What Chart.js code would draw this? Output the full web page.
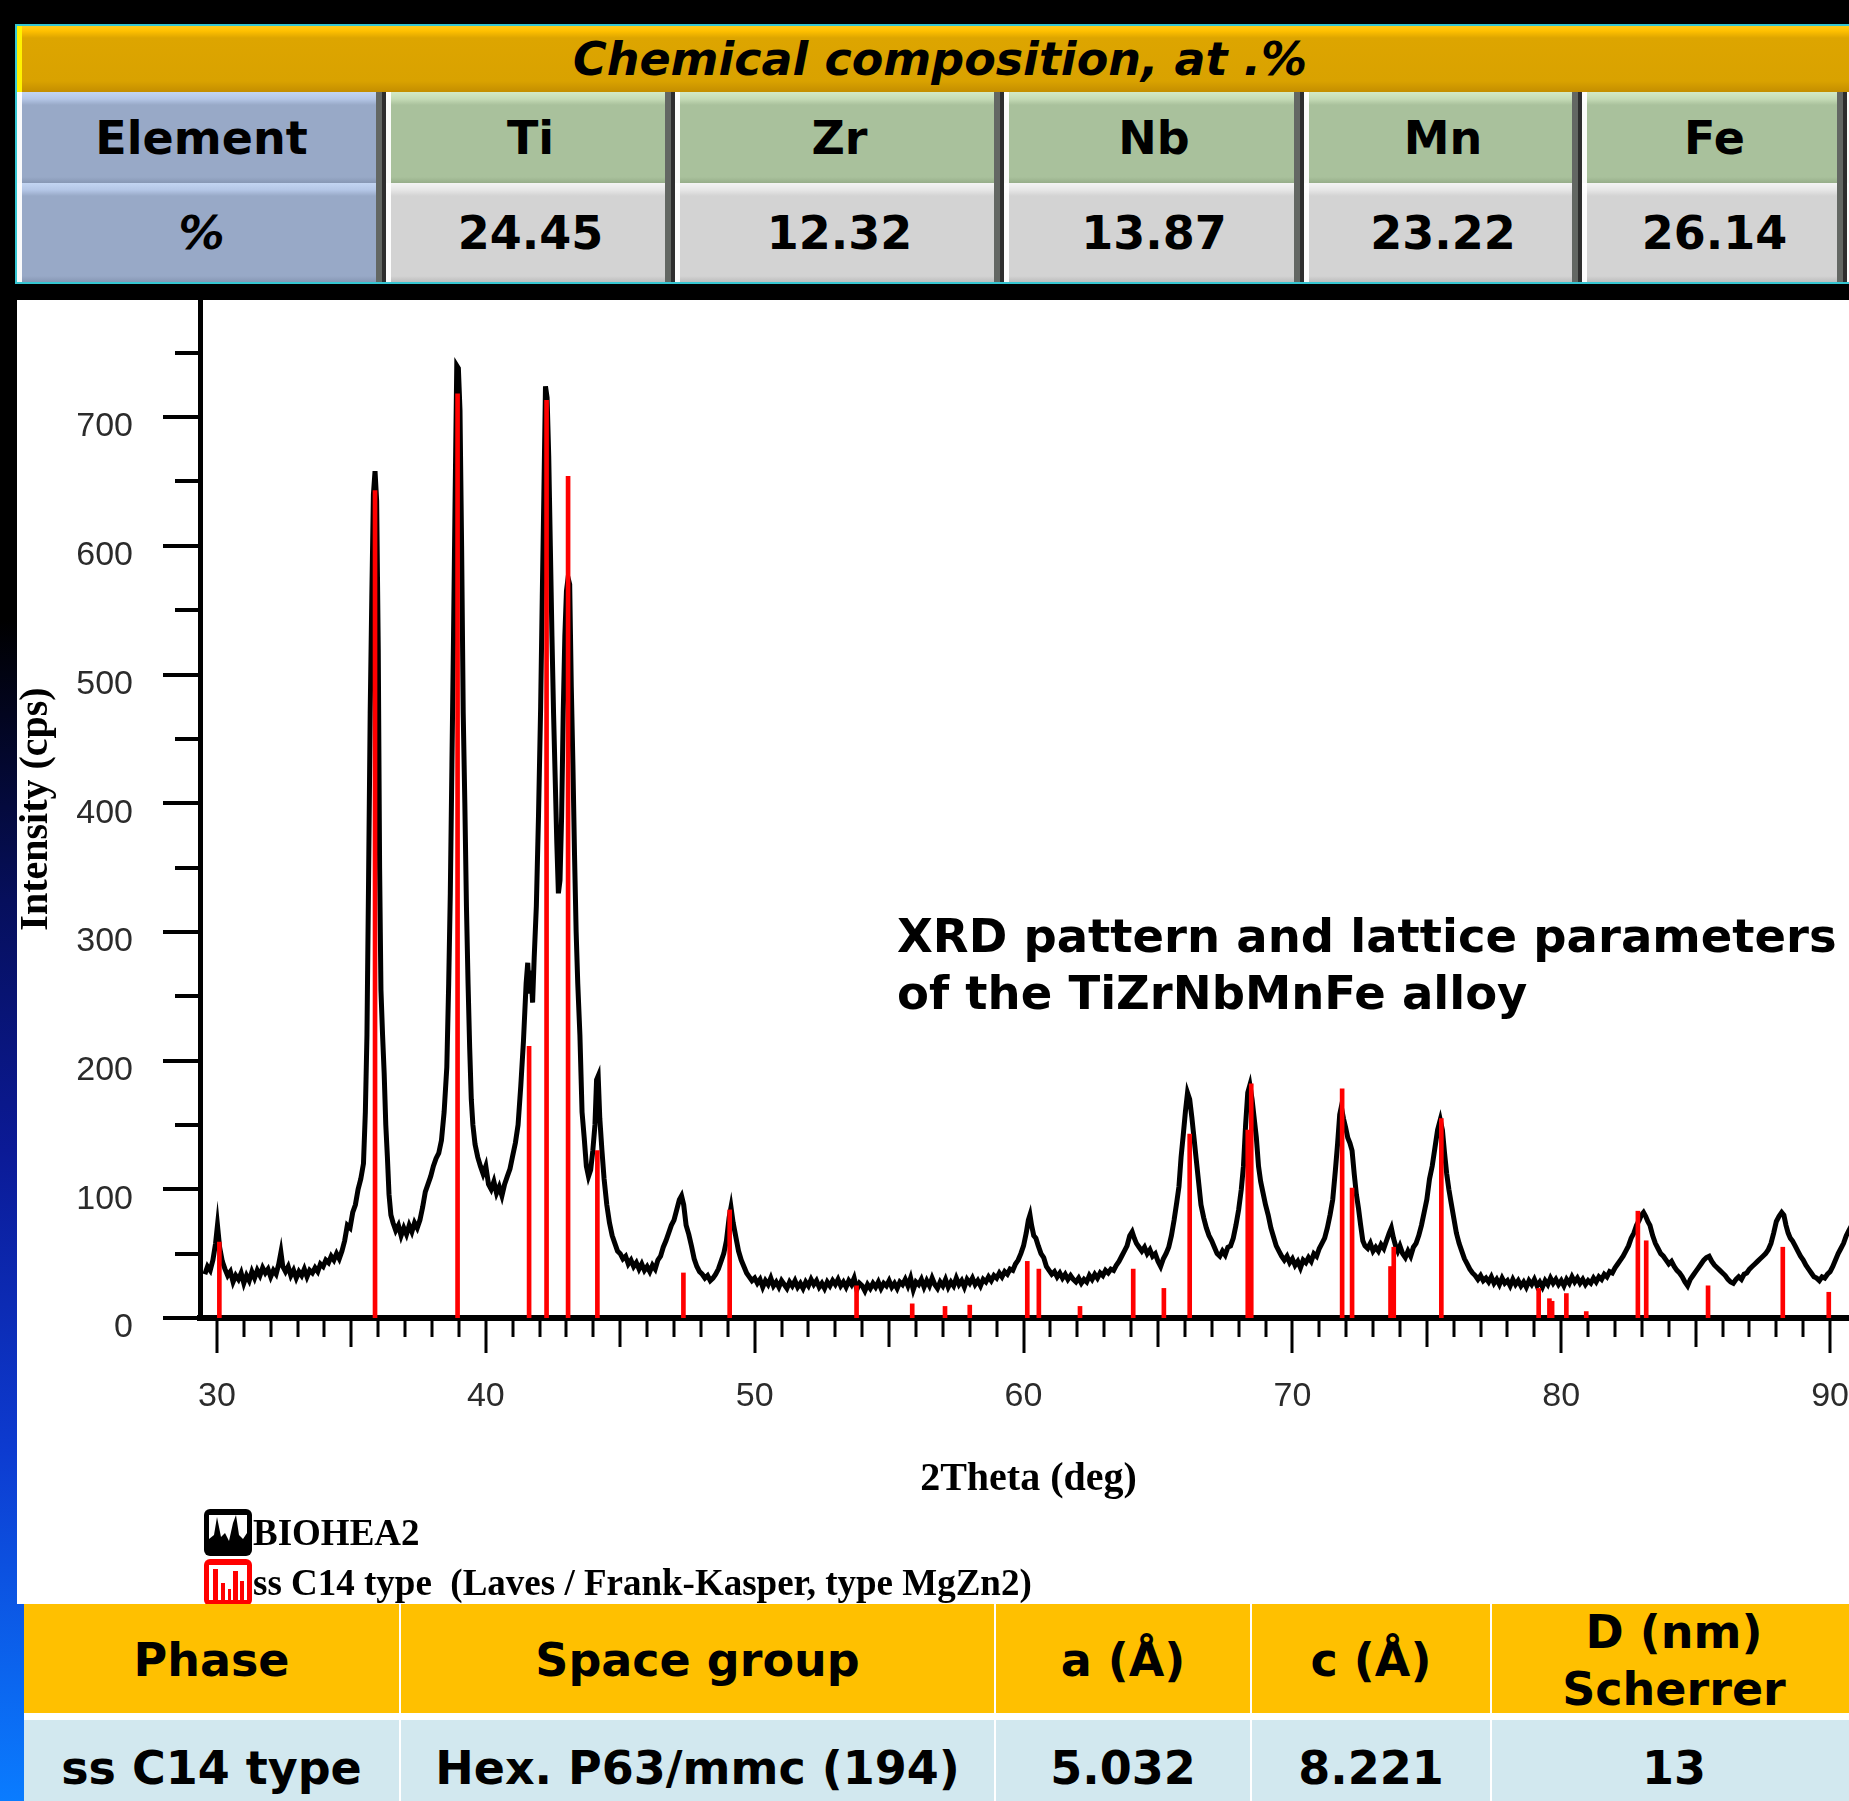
<!DOCTYPE html>
<html>
<head>
<meta charset="utf-8">
<title>XRD pattern - TiZrNbMnFe</title>
<script src="https://cdn.jsdelivr.net/npm/chart.js@4.4.1/dist/chart.umd.min.js"></script>
<style>
  html, body { margin: 0; padding: 0; width: 1849px; height: 1801px; overflow: hidden; }
  body {
    position: relative;
    font-family: 'DejaVu Sans', sans-serif;
    background: linear-gradient(to bottom, #000 0, #000 620px, #060f5c 900px, #0b1a96 1150px, #0d3bd0 1450px, #0a7cff 1801px);
  }
  #comp { position: absolute; left: 15px; top: 24px; width: 1860px; border: 2px solid #36c6d2; border-right: none; }
  #comp .band {
    width: 1846px; height: 66px; line-height: 66px; text-align: center;
    font: italic bold 46px 'DejaVu Sans', sans-serif; color: #000;
    background: linear-gradient(#ffcc1a 0, #ffc000 5px, #dda500 12px, #d9a200 55px, #c48e00 66px);
    box-shadow: inset 5px 0 0 #fff200;
  }
  #comp .band span { position: relative; top: 6px; }
  #comp .row { display: flex; }
  #comp .r1 { height: 91px; }
  #comp .r2 { height: 99px; }
  .cell {
    flex: none; display: flex; align-items: center; justify-content: center;
    font-weight: bold; font-size: 46px; color: #000; box-sizing: border-box;
    box-shadow: inset 5px 0 0 rgba(255,255,255,0.95), inset -4px 0 0 #2e2e2e, inset -10px 0 0 #636763;
  }
  .blue { background: linear-gradient(#c3d5f2 0, #b4c6e6 7px, #98a9c7 13px, #98a9c7 calc(100% - 6px), #8797b4 100%); }
  .green { background: linear-gradient(#d3e9c6 0, #c4dbb6 7px, #a9c19c 13px, #a9c19c calc(100% - 6px), #96ad89 100%); }
  .grey { background: linear-gradient(#f4f4f4 0, #e6e6e6 7px, #d3d3d3 13px, #d3d3d3 calc(100% - 6px), #bdbdbd 100%); }
  #plot { position: absolute; left: 17px; top: 300px; width: 1850px; height: 1304px; background: #fff; }
  #xrd { position: absolute; left: 0; top: 0; }
  #note {
    position: absolute; left: 897px; top: 908px; white-space: nowrap;
    font: bold 46.5px/57px 'DejaVu Sans', sans-serif; color: #000;
  }
  #legend { position: absolute; left: 204px; top: 1507px; }
  #legend .item { display: flex; align-items: center; height: 50px; }
  #legend canvas { display: block; }
  #legend span { white-space: pre; font: bold 37px 'Liberation Serif', serif; color: #000; margin-left: 1px; }
  #phase { position: absolute; left: 24px; top: 1604px; width: 1850px; background: #fff; }
  #phase .row { display: flex; }
  #phase .cellp {
    flex: none; display: flex; align-items: center; justify-content: center; text-align: center;
    font: bold 46px/57px 'DejaVu Sans', sans-serif; color: #000; box-sizing: border-box; margin-right: 2px;
  }
  #phase .head .cellp { height: 109px; background: #ffc000; padding-top: 4px; }
  #phase .body { margin-top: 7px; }
  #phase .body .cellp { height: 96px; background: #d2e8ef; }
</style>
</head>
<body>

<div id="comp"></div>
<div id="plot"><canvas id="xrd" width="1845" height="1210"></canvas></div>
<div id="note">XRD pattern and lattice parameters<br>of the TiZrNbMnFe alloy</div>
<div id="legend"></div>
<div id="phase"></div>

<script>
// chemical composition table
const compTitle = 'Chemical composition, at .%';
const elements = ['Ti', 'Zr', 'Nb', 'Mn', 'Fe'];
const atPercent = ['24.45', '12.32', '13.87', '23.22', '26.14'];
const compWidths = [369, 289, 329, 300, 278, 265, 40];

// phase table
const phaseHeaders = ['Phase', 'Space group', 'a (Å)', 'c (Å)', 'D (nm)<br>Scherrer'];
const phaseValues = ['ss C14 type', 'Hex. P63/mmc (194)', '5.032', '8.221', '13'];
const phaseWidths = [375, 593, 254, 238, 364];

// axis labels
const xTickValues = [30, 40, 50, 60, 70, 80, 90];
const yTickValues = [0, 100, 200, 300, 400, 500, 600, 700];

// measured pattern BIOHEA2: [2theta, counts]
const biohea2 = [
  [29.55,34],[29.65,40],[29.75,37],[29.85,45],[29.95,58],[30.02,72],[30.1,55],[30.2,44],[30.3,38],[30.4,33],
  [30.5,36],[30.6,28],[30.7,33],[30.8,30],[30.9,35],[31.0,27],[31.1,33],[31.2,29],[31.3,36],[31.4,31],
  [31.5,37],[31.6,33],[31.7,39],[31.8,35],[31.9,38],[32.0,32],[32.1,37],[32.2,34],[32.3,42],[32.38,51],
  [32.45,40],[32.55,36],[32.65,40],[32.75,33],[32.85,37],[32.95,31],[33.05,36],[33.15,33],[33.25,38],[33.35,32],
  [33.45,37],[33.55,35],[33.65,39],[33.75,36],[33.85,42],[33.95,40],[34.05,45],[34.15,43],[34.25,48],[34.35,45],
  [34.45,50],[34.55,46],[34.65,52],[34.75,60],[34.85,72],[34.95,70],[35.05,82],[35.15,88],[35.25,100],[35.35,108],
  [35.45,120],[35.52,160],[35.58,220],[35.64,340],[35.7,470],[35.76,560],[35.82,640],[35.88,658],[35.94,635],[36.0,520],
  [36.05,350],[36.1,255],[36.16,220],[36.22,190],[36.28,150],[36.34,125],[36.4,96],[36.47,80],[36.55,74],[36.65,68],
  [36.75,72],[36.85,64],[36.95,70],[37.05,65],[37.15,72],[37.25,67],[37.35,74],[37.45,70],[37.55,76],[37.65,86],
  [37.75,98],[37.85,104],[37.95,110],[38.05,118],[38.15,124],[38.25,128],[38.35,138],[38.45,160],[38.55,195],[38.62,260],
  [38.68,330],[38.74,430],[38.8,530],[38.86,640],[38.92,740],[38.98,738],[39.04,705],[39.1,600],[39.16,470],[39.22,400],
  [39.28,320],[39.34,260],[39.4,210],[39.46,170],[39.52,150],[39.6,135],[39.7,125],[39.8,118],[39.9,112],[40.0,118],
  [40.1,104],[40.2,100],[40.3,106],[40.4,97],[40.5,102],[40.6,95],[40.7,104],[40.8,110],[40.9,116],[41.0,126],
  [41.1,136],[41.2,150],[41.3,180],[41.4,215],[41.5,260],[41.56,276],[41.62,252],[41.68,270],[41.74,245],[41.8,280],
  [41.88,320],[41.96,390],[42.04,475],[42.1,560],[42.16,640],[42.22,724],[42.28,715],[42.34,670],[42.4,600],[42.46,530],
  [42.52,470],[42.58,420],[42.64,370],[42.7,330],[42.76,340],[42.82,390],[42.88,470],[42.94,530],[43.0,565],[43.06,575],
  [43.12,570],[43.18,490],[43.24,430],[43.3,360],[43.36,300],[43.42,260],[43.5,220],[43.58,160],[43.66,140],[43.74,118],
  [43.82,110],[43.9,115],[43.98,130],[44.06,150],[44.12,185],[44.18,188],[44.24,155],[44.32,130],[44.4,108],[44.5,88],
  [44.6,74],[44.7,64],[44.8,58],[44.9,52],[45.0,50],[45.1,46],[45.2,48],[45.3,42],[45.4,45],[45.5,40],
  [45.6,43],[45.7,38],[45.8,42],[45.9,37],[46.0,40],[46.1,36],[46.2,41],[46.3,38],[46.4,45],[46.5,48],
  [46.6,55],[46.7,60],[46.8,66],[46.9,72],[47.0,76],[47.1,84],[47.2,92],[47.28,95],[47.36,88],[47.45,72],
  [47.55,65],[47.65,56],[47.75,46],[47.85,40],[47.95,36],[48.05,34],[48.15,31],[48.25,33],[48.35,29],[48.45,31],
  [48.55,34],[48.65,38],[48.75,44],[48.85,50],[48.95,60],[49.05,78],[49.12,86],[49.2,74],[49.3,63],[49.4,52],
  [49.5,45],[49.6,40],[49.7,35],[49.8,32],[49.9,29],[50.0,31],[50.1,27],[50.2,30],[50.3,24],[50.4,29],
  [50.5,26],[50.6,31],[50.7,25],[50.8,28],[50.9,24],[51.0,29],[51.1,26],[51.2,23],[51.3,28],[51.4,25],
  [51.5,29],[51.6,24],[51.7,27],[51.8,23],[51.9,28],[52.0,25],[52.1,30],[52.2,26],[52.3,29],[52.4,24],
  [52.5,27],[52.6,23],[52.7,28],[52.8,25],[52.9,29],[53.0,26],[53.1,30],[53.2,25],[53.3,28],[53.4,24],
  [53.5,29],[53.6,26],[53.7,31],[53.8,22],[53.9,27],[54.0,25],[54.1,21],[54.2,26],[54.3,23],[54.4,27],
  [54.5,24],[54.6,28],[54.7,23],[54.8,27],[54.9,25],[55.0,29],[55.1,24],[55.2,27],[55.3,23],[55.4,28],
  [55.5,26],[55.6,30],[55.7,25],[55.8,31],[55.9,22],[56.0,28],[56.1,26],[56.2,30],[56.3,24],[56.4,29],
  [56.5,25],[56.6,31],[56.7,26],[56.8,23],[56.9,28],[57.0,25],[57.1,30],[57.2,24],[57.3,28],[57.4,25],
  [57.5,31],[57.6,26],[57.7,29],[57.8,24],[57.9,30],[58.0,27],[58.1,31],[58.2,26],[58.3,29],[58.4,25],
  [58.5,30],[58.6,28],[58.7,32],[58.8,29],[58.9,33],[59.0,31],[59.1,35],[59.2,32],[59.3,36],[59.4,34],
  [59.5,38],[59.6,37],[59.7,42],[59.8,45],[59.9,50],[60.0,56],[60.1,66],[60.18,76],[60.24,80],[60.3,72],
  [60.38,64],[60.46,62],[60.55,56],[60.65,50],[60.75,47],[60.85,40],[60.95,37],[61.05,34],[61.15,36],[61.25,32],
  [61.35,35],[61.45,31],[61.55,34],[61.65,30],[61.75,33],[61.85,30],[61.95,28],[62.05,31],[62.15,27],[62.25,30],
  [62.35,28],[62.45,33],[62.55,30],[62.65,34],[62.75,31],[62.85,35],[62.95,33],[63.05,37],[63.15,35],[63.25,38],
  [63.35,37],[63.45,41],[63.55,44],[63.65,48],[63.75,52],[63.85,56],[63.95,64],[64.04,67],[64.12,62],[64.2,58],
  [64.3,55],[64.4,52],[64.5,55],[64.6,50],[64.7,53],[64.8,48],[64.9,50],[65.0,44],[65.1,40],[65.2,46],
  [65.3,50],[65.4,55],[65.5,64],[65.6,76],[65.7,90],[65.78,102],[65.86,125],[65.94,142],[66.02,160],[66.1,175],
  [66.18,170],[66.26,156],[66.34,140],[66.42,124],[66.5,108],[66.6,88],[66.7,78],[66.8,70],[66.9,64],[67.0,60],
  [67.1,55],[67.2,50],[67.3,48],[67.4,52],[67.5,49],[67.6,55],[67.7,56],[67.8,62],[67.9,72],[68.0,84],
  [68.1,100],[68.18,118],[68.26,150],[68.34,175],[68.42,181],[68.5,170],[68.58,155],[68.66,140],[68.74,118],[68.82,106],
  [68.9,98],[69.0,88],[69.1,80],[69.2,70],[69.3,63],[69.4,56],[69.5,52],[69.6,48],[69.7,45],[69.8,48],
  [69.9,43],[70.0,46],[70.1,41],[70.2,44],[70.3,39],[70.4,45],[70.5,43],[70.6,47],[70.7,44],[70.8,50],
  [70.9,48],[71.0,54],[71.1,58],[71.2,62],[71.3,70],[71.4,80],[71.5,92],[71.6,115],[71.68,135],[71.76,158],
  [71.82,164],[71.9,155],[71.98,148],[72.06,140],[72.14,136],[72.22,130],[72.3,112],[72.38,96],[72.46,85],[72.54,72],
  [72.62,60],[72.7,56],[72.8,54],[72.9,58],[73.0,52],[73.1,55],[73.2,52],[73.3,57],[73.4,54],[73.5,60],
  [73.6,66],[73.68,70],[73.76,62],[73.84,56],[73.92,52],[74.0,56],[74.1,50],[74.2,47],[74.3,52],[74.4,48],
  [74.5,55],[74.6,58],[74.7,64],[74.8,72],[74.9,82],[75.0,92],[75.1,108],[75.2,118],[75.3,132],[75.4,146],
  [75.5,154],[75.58,146],[75.66,128],[75.74,112],[75.82,100],[75.9,90],[76.0,78],[76.1,66],[76.2,58],[76.3,52],
  [76.4,46],[76.5,42],[76.6,38],[76.7,35],[76.8,33],[76.9,30],[77.0,33],[77.1,29],[77.2,31],[77.3,28],
  [77.4,32],[77.5,27],[77.6,30],[77.7,26],[77.8,31],[77.9,27],[78.0,29],[78.1,25],[78.2,30],[78.3,26],
  [78.4,29],[78.5,25],[78.6,28],[78.7,24],[78.8,29],[78.9,26],[79.0,30],[79.1,25],[79.2,28],[79.3,24],
  [79.4,29],[79.5,26],[79.6,31],[79.7,27],[79.8,30],[79.9,26],[80.0,29],[80.1,25],[80.2,30],[80.3,27],
  [80.4,32],[80.5,28],[80.6,31],[80.7,27],[80.8,30],[80.9,26],[81.0,29],[81.1,27],[81.2,31],[81.3,28],
  [81.4,32],[81.5,30],[81.6,34],[81.7,32],[81.8,36],[81.9,35],[82.0,39],[82.1,42],[82.2,45],[82.3,48],
  [82.4,52],[82.5,56],[82.6,62],[82.7,66],[82.8,72],[82.9,76],[82.98,80],[83.06,82],[83.14,79],[83.22,75],
  [83.3,72],[83.4,64],[83.5,58],[83.6,54],[83.7,50],[83.8,48],[83.9,45],[84.0,42],[84.1,44],[84.2,40],
  [84.3,37],[84.4,35],[84.5,32],[84.6,28],[84.7,25],[84.8,30],[84.9,33],[85.0,36],[85.1,39],[85.2,42],
  [85.3,45],[85.4,47],[85.5,48],[85.6,44],[85.7,41],[85.8,39],[85.9,37],[86.0,35],[86.1,33],[86.2,30],
  [86.3,28],[86.4,27],[86.5,30],[86.6,32],[86.7,30],[86.8,34],[86.9,35],[87.0,38],[87.1,40],[87.2,42],
  [87.3,44],[87.4,46],[87.5,48],[87.6,50],[87.7,53],[87.8,58],[87.9,66],[88.0,75],[88.1,79],[88.2,82],
  [88.28,80],[88.36,72],[88.44,66],[88.52,62],[88.6,60],[88.7,56],[88.8,52],[88.9,48],[89.0,45],[89.1,41],
  [89.2,38],[89.3,35],[89.4,32],[89.5,31],[89.6,29],[89.7,32],[89.8,31],[89.9,34],[90.0,36],[90.1,40],
  [90.2,45],[90.3,50],[90.4,54],[90.5,58],[90.6,64],[90.7,68],[90.8,72]
];

// reference sticks: ss C14 type (MgZn2)
const stickTheta = [30.09, 35.88, 38.95, 41.61, 42.26, 43.06, 44.15, 47.35, 49.07, 53.79, 55.86, 57.08,
  58.0, 60.14, 60.57, 62.1, 64.08, 65.22, 66.18, 68.34, 68.47, 71.85, 72.22, 73.65, 73.77, 75.54,
  79.16, 79.56, 79.66, 80.19, 80.93, 82.85, 83.16, 85.46, 88.24, 89.95];
const stickIntensity = [59, 643, 718, 211, 713, 654, 130, 35, 84, 25, 11, 9,
  10, 44, 38, 9, 38, 23, 143, 146, 182, 178, 101, 40, 55, 155,
  23, 15, 13, 19, 5, 83, 60, 25, 55, 20];

// ---- tables ----
function buildComp() {
  const el = document.getElementById('comp');
  let html = `<div class="band"><span>${compTitle}</span></div>`;
  html += '<div class="row r1">';
  html += `<div class="cell blue" style="width:${compWidths[0]}px">Element</div>`;
  elements.forEach((e, i) => { html += `<div class="cell green" style="width:${compWidths[i + 1]}px">${e}</div>`; });
  html += `<div class="cell green" style="width:${compWidths[6]}px"></div></div>`;
  html += '<div class="row r2">';
  html += `<div class="cell blue" style="width:${compWidths[0]}px;font-style:italic">%</div>`;
  atPercent.forEach((v, i) => { html += `<div class="cell grey" style="width:${compWidths[i + 1]}px">${v}</div>`; });
  html += `<div class="cell grey" style="width:${compWidths[6]}px"></div></div>`;
  el.innerHTML = html;
}

function buildPhase() {
  const el = document.getElementById('phase');
  let html = '<div class="row head">';
  phaseHeaders.forEach((h, i) => { html += `<div class="cellp" style="width:${phaseWidths[i]}px">${h}</div>`; });
  html += '</div><div class="row body">';
  phaseValues.forEach((v, i) => { html += `<div class="cellp" style="width:${phaseWidths[i]}px">${v}</div>`; });
  html += '</div>';
  el.innerHTML = html;
}

buildComp();
buildPhase();

// ---- chart ----
const tickFont = { family: 'Liberation Sans', size: 34 };
const titleFont = { family: 'Liberation Serif', size: 40, weight: 'bold', lineHeight: 1 };

// minor / major tick marks outside the axes
const axisTicks = {
  id: 'axisTicks',
  afterDraw(chart) {
    const { ctx, chartArea, scales: { x, y } } = chart;
    ctx.save();
    ctx.strokeStyle = '#000';
    ctx.lineWidth = 4;
    for (let v = 0; v <= 750; v += 50) {
      const py = Math.round(y.getPixelForValue(v));
      const len = v % 100 === 0 ? 37 : 25;
      ctx.beginPath();
      ctx.moveTo(chartArea.left - len, py);
      ctx.lineTo(chartArea.left, py);
      ctx.stroke();
    }
    ctx.lineWidth = 3;
    const base = chartArea.bottom + 2;
    for (let v = 30; v <= 91; v++) {
      const px = Math.round(x.getPixelForValue(v));
      const len = v % 10 === 0 ? 33 : (v % 5 === 0 ? 27 : 17);
      ctx.beginPath();
      ctx.moveTo(px, base);
      ctx.lineTo(px, base + len);
      ctx.stroke();
    }
    ctx.restore();
  }
};

const chart = new Chart(document.getElementById('xrd'), {
  type: 'line',
  data: {
    datasets: [
      {
        label: 'BIOHEA2',
        data: biohea2.map(p => ({ x: p[0], y: p[1] })),
        borderColor: '#000',
        borderWidth: 5,
        pointRadius: 0,
        tension: 0,
        order: 1
      },
      {
        type: 'bar',
        label: 'ss C14 type  (Laves / Frank-Kasper, type MgZn2)',
        data: stickTheta.map((t, i) => ({ x: t, y: stickIntensity[i] })),
        backgroundColor: '#ff0000',
        borderWidth: 0,
        barThickness: 4,
        grouped: false,
        order: 0
      }
    ]
  },
  options: {
    responsive: false,
    animation: false,
    events: [],
    layout: { padding: { left: 0, right: 5, top: 0, bottom: 0 } },
    plugins: { legend: { display: false }, tooltip: { enabled: false } },
    scales: {
      x: {
        type: 'linear', min: 29.37, max: 91, offset: false, z: 1,
        grid: { display: false, drawTicks: false },
        border: { display: true, color: '#000', width: 6 },
        ticks: { autoSkip: false, maxRotation: 0, padding: 58, color: '#2b2b2b', font: tickFont },
        afterBuildTicks(scale) { scale.ticks = xTickValues.map(v => ({ value: v })); },
        title: { display: true, text: '2Theta (deg)', color: '#000', font: titleFont, padding: { top: 0, bottom: 10 } },
        afterFit(scale) { scale.height = 192; scale.paddingLeft = 0; scale.paddingRight = 0; }
      },
      y: {
        min: 0, max: 791, z: 1,
        grid: { display: false, drawTicks: false },
        border: { display: true, color: '#000', width: 5 },
        ticks: { autoSkip: false, padding: 67, labelOffset: 10, color: '#2b2b2b', font: tickFont },
        afterBuildTicks(scale) { scale.ticks = yTickValues.map(v => ({ value: v })); },
        title: { display: true, text: 'Intensity (cps)', color: '#000', font: titleFont, padding: 0 },
        afterFit(scale) { scale.width = 183; scale.paddingTop = 0; scale.paddingBottom = 0; }
      }
    }
  },
  plugins: [axisTicks]
});

// ---- legend ----
function roundRect(c, x, y, w, h, r) {
  c.beginPath();
  c.moveTo(x + r, y);
  c.arcTo(x + w, y, x + w, y + h, r);
  c.arcTo(x + w, y + h, x, y + h, r);
  c.arcTo(x, y + h, x, y, r);
  c.arcTo(x, y, x + w, y, r);
  c.closePath();
}

function drawIcon(cv, ds) {
  const c = cv.getContext('2d');
  const w = cv.width, h = cv.height;
  const col = ds.type === 'bar' ? ds.backgroundColor : ds.borderColor;
  c.fillStyle = col;
  roundRect(c, 0, 0, w, h, 6);
  c.fill();
  c.fillStyle = '#fff';
  c.fillRect(5, 6, w - 10, h - 12);
  c.fillStyle = col;
  if (ds.type === 'bar') {
    c.fillRect(9, 10, 5, h - 16);
    c.fillRect(17, 24, 4, h - 30);
    c.fillRect(24, 30, 3, h - 36);
    c.fillRect(29, 12, 5, h - 18);
    c.fillRect(36, 22, 4, h - 28);
  } else {
    c.beginPath();
    c.moveTo(5, h - 6);
    c.lineTo(5, 30); c.lineTo(10, 26); c.lineTo(13, 8); c.lineTo(17, 28);
    c.lineTo(21, 24); c.lineTo(25, 32); c.lineTo(29, 14); c.lineTo(32, 6);
    c.lineTo(35, 26); c.lineTo(39, 30); c.lineTo(43, 24); c.lineTo(w - 5, 34);
    c.lineTo(w - 5, h - 6);
    c.closePath();
    c.fill();
  }
}

const legendEl = document.getElementById('legend');
chart.data.datasets.forEach(ds => {
  const item = document.createElement('div');
  item.className = 'item';
  const cv = document.createElement('canvas');
  cv.width = 48; cv.height = 47;
  drawIcon(cv, ds);
  const txt = document.createElement('span');
  txt.textContent = ds.label;
  item.appendChild(cv);
  item.appendChild(txt);
  legendEl.appendChild(item);
});
</script>
</body>
</html>
